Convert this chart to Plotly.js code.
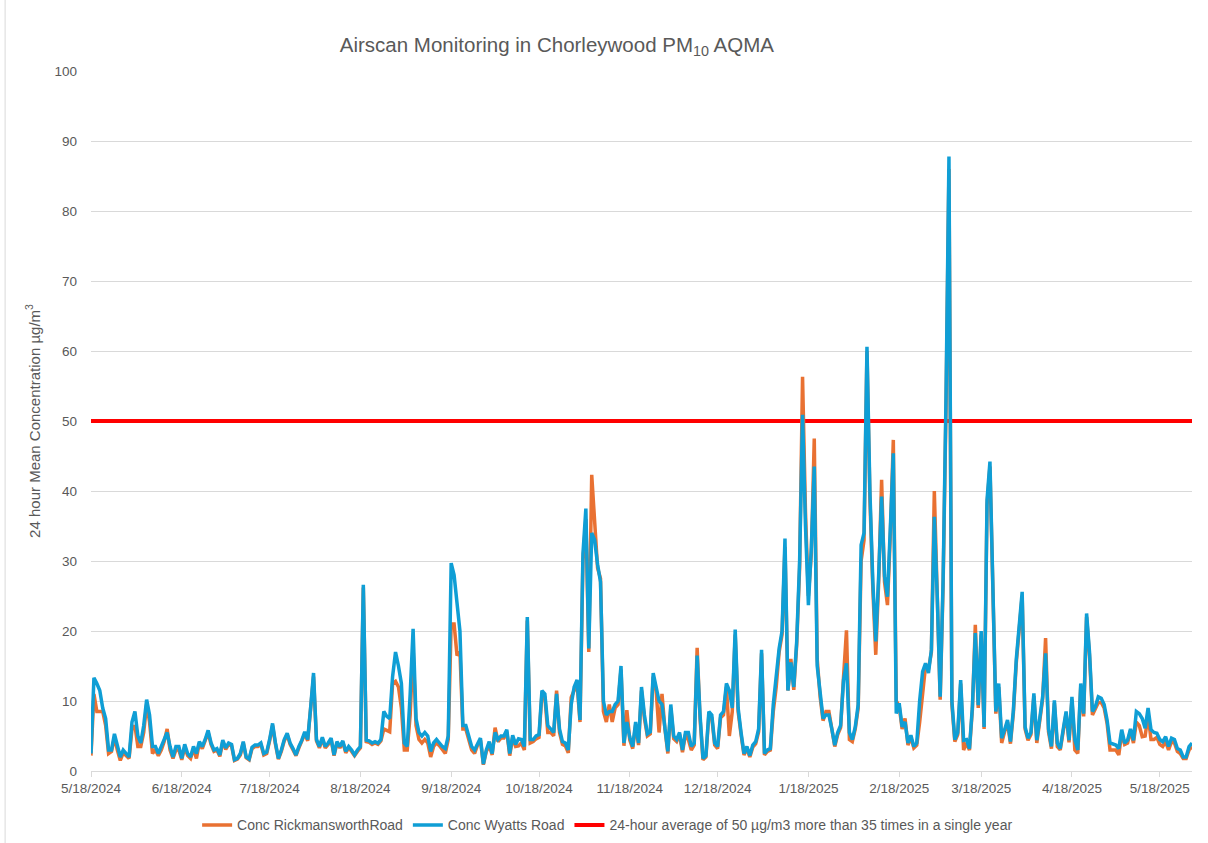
<!DOCTYPE html>
<html>
<head>
<meta charset="utf-8">
<script src="https://cdn.plot.ly/plotly-3.0.1.min.js"></script>
<style>
html,body{margin:0;padding:0;background:#fff;}
#chart{width:1208px;height:843px;}
</style>
</head>
<body>
<div id="chart"></div>
<script>
// ---- DATA ----
const startDate = '2024-05-18';
const seriesNames = ['Conc RickmansworthRoad', 'Conc Wyatts Road', '24-hour average of 50 µg/m3 more than 35 times in a single year'];

const rickmansworth = [
2.2,11,8.5,8.5,8.5,6.5,2.5,2.8,4.8,3,1.5,2.6,2.2,1.8,6,6.5,3.5,3.5,5.5,9.5,
7,2.5,3,2.2,3,4.2,6,3,1.8,3,3,1.6,3.4,2.2,1.8,3.2,1.8,4,3.2,4.2,
5.5,3.8,2.8,3,2.1,4.2,3.1,3.8,3.6,1.5,1.7,2.3,4,1.9,1.6,3.2,3.5,3.5,3.8,2.3,
2.5,4.3,6.5,3.8,1.7,2.8,4.3,5.2,3.8,3,2.2,3.3,4.2,5.3,4.3,8.7,13.5,4.3,3.3,4.6,
3.3,3.8,4.5,2.2,4,3.3,4.1,2.6,3.3,2.8,2.2,2.8,3.3,26.2,4.2,4.1,3.8,4,3.8,4.3,
6,5.8,5.6,12.5,12.8,12,9,3,3,8,17.5,6.5,4.5,4,4.5,4,2,3.5,4,3.6,
3,2.5,4.5,21,21,16.5,17,6,6,4.5,3,2.5,3.7,4.4,0.9,2.8,3.6,2.3,6.2,4.2,
4.7,4.7,5.6,2.2,4.8,3.5,3.6,4,3,21.5,4,4.2,4.6,4.8,11,10.5,5.5,5.5,5,11.5,
5.5,3.8,3.6,2.6,10.5,11.5,12.5,7,30,36,17,42.3,35,29,27.5,8.5,7,9.5,7,9,
9.5,14.5,3.6,8.7,4.4,3.2,6.6,3.7,11.5,7.5,5,5.3,13.5,11.5,5.5,11,6,2.5,9,4.6,
4.2,5.2,2.7,5.2,4.5,3,3.7,17.6,7.5,1.6,2,8,7.6,3.7,3.2,7.6,8,12,5,8.5,
19.5,8.5,5.2,2.3,3.2,2,3.4,3.9,5.6,16.8,2.3,2.8,3,8.5,12,17,19.5,32,11.5,16,
11.6,18,29,56.3,37,25,31,47.5,16,10.6,7.2,8.5,8.5,5.7,3.5,5.2,6.2,13.5,20.1,4.5,
4.2,6,9,30,33,60,39,26,16.6,27,41.6,27,23.7,34,47.3,10,9.3,6,7.5,3.7,
4.8,3.3,3.7,7,10.5,15,14.5,17,40,24,10.2,26.5,52,86,9.5,4.2,5.2,12.5,3,4,
3,8.8,20.9,9,19.5,6,38,43.5,24,8.2,12,4,5.6,7,3.9,8.3,15.5,20,25,6,
4.4,5.2,10.7,4,7,10.3,19,5.6,3.2,9.7,3.5,3,5.6,8.2,4.1,10.2,3,2.5,12,7.8,
22,16.5,8,8.8,9.8,9.8,9,6.8,3,3,3,2.3,5.5,3.8,4,5.8,4,7,6.5,4.9,
5,8,4.5,4.5,4.8,3.8,3.5,4.2,3,4.2,4,2.8,2.5,1.8,1.8,3,3.5
];

const wyatts = [
2.5,13.3,12.5,11.5,9,7.5,3,3,5.3,3.5,2,3,2.5,2,7,8.5,5,4,6.5,10.2,
8,3.5,3.5,2.5,3.5,4.5,5.5,3.5,2,3.5,3.5,1.8,3.8,2.5,2,3.5,2.5,4.2,3.5,4.5,
5.8,4,3,3.2,2.3,4.4,3.3,4,3.8,1.6,1.8,2.5,4.2,2,1.7,3.4,3.7,3.7,4,2.5,
2.7,4.5,6.8,4,1.8,3,4.5,5.4,4,3.2,2.3,3.5,4.4,5.6,4.5,9,14,4.5,3.5,4.8,
3.5,4,4.7,2.3,4.2,3.5,4.3,2.8,3.5,3,2.3,3,3.5,26.6,4.4,4.3,4,4.2,4,4.5,
8.5,7.8,7.5,13.5,17,15,12.5,4,3.5,11,20.3,7.5,5.5,5,5.5,5,2.8,4,4.5,4,
3.5,3.2,5,29.7,28,24,20,6.5,6.5,5,3.5,3,4,4.7,1,3,4.2,2.5,5.5,4.5,
5,5,5.9,2.5,5.1,3.8,4.6,4.5,3.5,22,4.5,4.5,5,5.2,11.5,11,6.5,6,5.5,11,
6,4.2,4,3,9.5,12,13,7.3,31,37.5,17.5,34,33,29.5,27,10,8,8.5,8.5,9.5,
10,15,4,7,4.8,3.5,7,4,12,8,5.3,5.6,14,12,10,9.5,6.5,2.8,9.5,5,
4.5,5.5,3,5.5,5.5,3.5,4,16.5,8,1.8,2.2,8.5,8,4,3.5,8,8.5,12.5,11.5,9,
20.2,9,5.5,2.5,3.5,2.2,3.7,4.2,6,17.3,2.5,3,3.2,9.5,13.5,17.5,20,33.2,11.5,15.5,
12,18.5,30,50.9,35,23.7,32,43.5,15,11,7.5,8,8,6,3.7,5.5,6.5,13,15.4,5.5,
4.5,6.3,9.5,32.3,34,60.6,40,27,18.5,28,39.2,27.8,24.9,35,45.4,8.2,9.7,6.3,7,4,
5.1,3.5,4,10.1,14.2,15.4,14,17.3,36.3,24.9,10.6,27.3,53.5,87.8,10,4.5,5.5,13,4.4,4.5,
3.2,9.2,19.7,9.4,20,6.3,38.7,44.2,24.4,8.5,12.5,4.7,5.9,7.3,4.2,8.7,16,20.5,25.6,6.3,
4.7,5.5,11.1,4.4,7.3,10.6,16.8,6,3.5,10.1,4,3.2,5.9,8.5,4.4,10.6,4.4,3,12.5,8.2,
22.5,17,8.5,9.2,10.6,10.4,9.5,7.3,4,3.8,3.7,3.2,5.9,4,4.4,6,4.4,8.5,8.2,7.5,
6.1,9,5.9,5.5,5.4,4.5,4.2,4.9,3.5,4.7,4.5,3.2,3,2,2,3.5,4
];

const thresholdDates = ['2024-05-18', '2025-05-29'];
const thresholdValues = [50, 50];

const xTickDates = ['2024-05-18','2024-06-18','2024-07-18','2024-08-18','2024-09-18','2024-10-18',
  '2024-11-18','2024-12-18','2025-01-18','2025-02-18','2025-03-18','2025-04-18','2025-05-18'];
const xTickLabels = ['5/18/2024','6/18/2024','7/18/2024','8/18/2024','9/18/2024','10/18/2024',
  '11/18/2024','12/18/2024','1/18/2025','2/18/2025','3/18/2025','4/18/2025','5/18/2025'];
const yTicks = [0,10,20,30,40,50,60,70,80,90,100];

// daily dates, one per reading
function dailyDates(start, n) {
  const out = [];
  const d0 = new Date(start + 'T00:00:00Z');
  for (let i = 0; i < n; i++) {
    const d = new Date(d0.getTime() + i * 86400000);
    out.push(d.toISOString().slice(0, 10));
  }
  return out;
}
const dates = dailyDates(startDate, wyatts.length);

const FONT = 'Liberation Sans, Arial, sans-serif';
const GREY = '#595959';

const traces = [
  {x: thresholdDates, y: thresholdValues, type: 'scatter', mode: 'lines', name: seriesNames[2],
   line: {color: '#FF0000', width: 4}, legendrank: 3},
  {x: dates, y: rickmansworth, type: 'scatter', mode: 'lines', name: seriesNames[0],
   line: {color: '#E97132', width: 3.5}, legendrank: 1},
  {x: dates, y: wyatts, type: 'scatter', mode: 'lines', name: seriesNames[1],
   line: {color: '#0F9ED5', width: 3.5}, legendrank: 2}
];

const layout = {
  width: 1208, height: 843,
  margin: {l: 91, r: 16, t: 71, b: 72},
  paper_bgcolor: '#fff', plot_bgcolor: '#fff',
  font: {family: FONT, color: GREY, size: 13.5},
  title: {text: 'Airscan Monitoring in Chorleywood PM<sub>10</sub> AQMA',
    font: {family: FONT, size: 20.5, color: GREY},
    xref: 'container', x: 0.461, xanchor: 'center', yref: 'container', y: 0.947, yanchor: 'middle'},
  xaxis: {type: 'date', range: ['2024-05-18', '2025-05-29'],
    tickvals: xTickDates, ticktext: xTickLabels, tickangle: 0,
    showgrid: false, zeroline: false, showline: true, linecolor: '#d9d9d9', linewidth: 1,
    ticks: 'outside', ticklen: 5, tickcolor: '#d9d9d9', tickfont: {size: 13.5, color: GREY}},
  yaxis: {range: [0, 100], tickvals: yTicks, showgrid: true, gridcolor: '#d9d9d9', gridwidth: 1,
    zeroline: false, showline: false, ticks: '', tickfont: {size: 13.5, color: GREY}, ticklabelstandoff: 13,
    title: {text: '24 hour Mean Concentration µg/m<sup>3</sup>', font: {size: 15, color: GREY}, standoff: 10}},
  legend: {orientation: 'h', xref: 'container', yref: 'container', x: 0.503, xanchor: 'center',
    y: 0.021, yanchor: 'middle', font: {size: 14, color: GREY}, traceorder: 'normal',
    entrywidthmode: 'pixels'},
  showlegend: true,
  shapes: [{type: 'line', xref: 'paper', yref: 'paper', x0: -0.078, x1: -0.078, y0: -0.11, y1: 1.11,
    line: {color: '#d9d9d9', width: 1}}]
};

Plotly.newPlot('chart', traces, layout, {staticPlot: true, displayModeBar: false});
</script>
</body>
</html>
